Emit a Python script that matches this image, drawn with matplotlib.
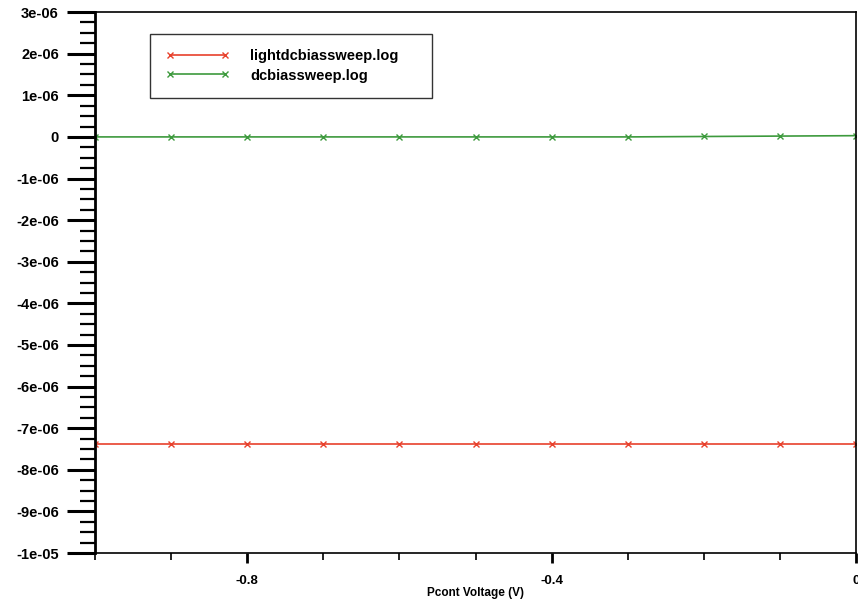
import matplotlib
matplotlib.use("Agg")
import matplotlib.pyplot as plt
from matplotlib.ticker import MultipleLocator, FuncFormatter

# Data
voltage = [-1.0, -0.9, -0.8, -0.7, -0.6, -0.5, -0.4, -0.3, -0.2, -0.1, 0.0]
light_current = [-7.38e-06, -7.38e-06, -7.38e-06, -7.38e-06, -7.38e-06, -7.38e-06,
                 -7.38e-06, -7.38e-06, -7.38e-06, -7.38e-06, -7.38e-06]
dark_current = [0.0, 0.0, 0.0, 0.0, 0.0, 0.0, 0.0, 0.0, 0.01e-06, 0.02e-06, 0.03e-06]
series_names = ["lightdcbiassweep.log", "dcbiassweep.log"]

plt.rcParams['font.family'] = ['Liberation Sans', 'DejaVu Sans']

fig = plt.figure(figsize=(8.58, 6.04), dpi=100)
ax = fig.add_axes([0.1107, 0.0844, 0.887, 0.8956])

ax.plot(voltage, light_current, color='#e8412c', lw=1.2, marker='x', ms=5, mew=1.0,
        label=series_names[0])
ax.plot(voltage, dark_current, color='#3d9a3d', lw=1.2, marker='x', ms=5, mew=1.0,
        label=series_names[1])

ax.set_xlim(-1.0, 0.0)
ax.set_ylim(-1e-05, 3e-06)

ax.xaxis.set_major_locator(MultipleLocator(0.4))
ax.xaxis.set_minor_locator(MultipleLocator(0.1))
ax.yaxis.set_major_locator(MultipleLocator(1e-06))
ax.yaxis.set_minor_locator(MultipleLocator(2.5e-07))


def sci(v, pos):
    if abs(v) < 1e-12:
        return "0"
    return f"{v:.0e}"


ax.yaxis.set_major_formatter(FuncFormatter(sci))
ax.xaxis.set_major_formatter(FuncFormatter(lambda v, p: "0" if abs(v) < 1e-9 else f"{v:.1f}"))

ax.tick_params(axis='y', which='major', length=20, width=2.2, direction='out',
               labelsize=10.5, pad=6)
ax.tick_params(axis='y', which='minor', length=11, width=1.6, direction='out')
ax.tick_params(axis='x', which='major', length=7, width=2.0, direction='out',
               labelsize=9.5, pad=9)
ax.tick_params(axis='x', which='minor', length=5, width=1.2, direction='out')
for lab in ax.get_xticklabels() + ax.get_yticklabels():
    lab.set_fontweight('bold')

for sp in ax.spines.values():
    sp.set_linewidth(1.2)
ax.spines['left'].set_linewidth(2.0)

ax.set_xlabel("Pcont Voltage (V)", fontsize=8.5, fontweight='bold', labelpad=0)

leg = ax.legend(loc='upper left', bbox_to_anchor=(0.0723, 0.9593, 0.3706, 0.0),
                mode='expand', fancybox=False, frameon=True, edgecolor='black',
                fontsize=10.5, handlelength=4.4, numpoints=2, borderpad=1.05,
                labelspacing=0.35, handletextpad=1.4, borderaxespad=0)
leg.get_frame().set_linewidth(1.0)
for t in leg.get_texts():
    t.set_fontweight('bold')

fig.savefig("out.png", dpi=100)
